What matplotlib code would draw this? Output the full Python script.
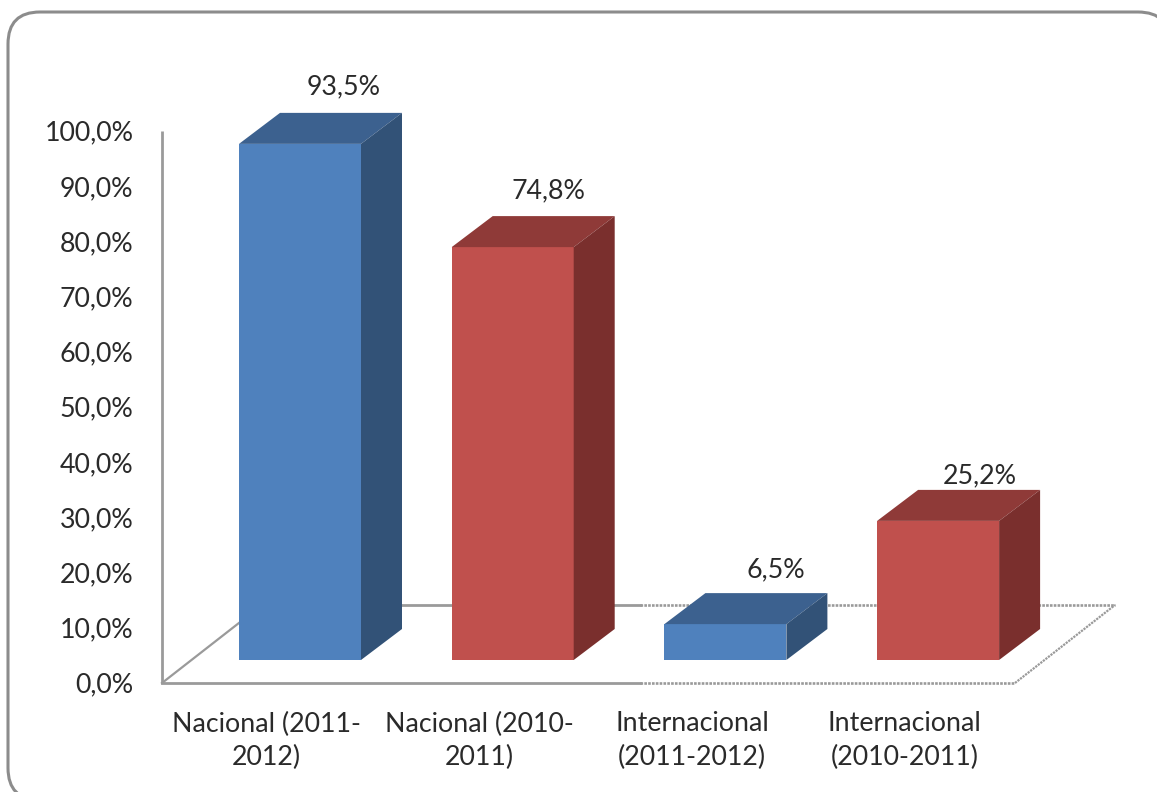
import matplotlib
matplotlib.use("Agg")
import matplotlib.pyplot as plt
from matplotlib.patches import FancyBboxPatch, Polygon, Rectangle
from matplotlib.transforms import Affine2D

categories = ["Nacional (2011-\n2012)", "Nacional (2010-\n2011)",
              "Internacional\n(2011-2012)", "Internacional\n(2010-2011)"]
values = [93.5, 74.8, 6.5, 25.2]
value_labels = ["93,5%", "74,8%", "6,5%", "25,2%"]
y_ticks = [0, 10, 20, 30, 40, 50, 60, 70, 80, 90, 100]
y_tick_labels = ["0,0%", "10,0%", "20,0%", "30,0%", "40,0%", "50,0%",
                 "60,0%", "70,0%", "80,0%", "90,0%", "100,0%"]

plt.rcParams['font.family'] = ['Lato', 'DejaVu Sans']

W, H = 1157, 792
PX_X = 212.7   # pixels per category
PX_Y = 5.52    # pixels per percent

fig = plt.figure(figsize=(W / 100, H / 100), dpi=100)
ax = fig.add_axes([0, 0, 1, 1])
ax.set_xlim(-300 / PX_X, (W - 300) / PX_X)
ax.set_ylim((683 - H) / PX_Y, 683 / PX_Y)
ax.axis('off')

# rounded frame, in pixels, runs off the right and bottom edges
frame = FancyBboxPatch((8, 12), 1162, 788, boxstyle="round,pad=0,rounding_size=32",
                       fc='white', ec='#8c8c8c', lw=2.2)
frame.set_transform(Affine2D().scale(1, -1).translate(0, H))
ax.add_patch(frame)

bar_w = 122 / PX_X
front_y = 23 / PX_Y
depth_x = 41 / PX_X
depth_y = 31 / PX_Y
floor_x = 100 / PX_X
floor_y = 78 / PX_Y
axis_x0 = -138 / PX_X
axis_x1 = 715 / PX_X
split_x = 340 / PX_X   # floor lines turn jagged from here on
line = '#9a9a9a'
jagged = (0, (1.0, 0.45))

ax.plot([axis_x0, axis_x0], [0, 100], color=line, lw=2, solid_capstyle='butt')
ax.plot([axis_x0, split_x], [0, 0], color=line, lw=2)
ax.plot([split_x, axis_x1], [0, 0], color=line, lw=1.9, ls=jagged)
ax.plot([axis_x0, axis_x0 + floor_x], [0, floor_y], color=line, lw=1.6)
ax.plot([axis_x0 + floor_x, split_x], [floor_y, floor_y], color=line, lw=2)
ax.plot([split_x, axis_x1 + floor_x], [floor_y, floor_y], color=line, lw=1.9, ls=jagged)
ax.plot([axis_x1, axis_x1 + floor_x], [0, floor_y], color=line, lw=1.6, ls=jagged)

colors = [('#4f81bd', '#3c618f', '#325277'), ('#c0504d', '#8f3a38', '#7a2f2d'),
          ('#4f81bd', '#3c618f', '#325277'), ('#c0504d', '#8f3a38', '#7a2f2d')]
label_dx = [44, 36, 50, 42]
label_dy = [26, 25, 23, 14]

for i, (v, lab) in enumerate(zip(values, value_labels)):
    x0 = i - bar_w / 2
    x1 = i + bar_w / 2
    y0 = front_y
    y1 = front_y + v
    face, top, side = colors[i]
    ax.add_patch(Rectangle((x0, y0), bar_w, v, fc=face, ec='none', zorder=3))
    ax.add_patch(Polygon([(x0, y1), (x1, y1), (x1 + depth_x, y1 + depth_y), (x0 + depth_x, y1 + depth_y)],
                         fc=top, ec='none', zorder=3))
    ax.add_patch(Polygon([(x1, y0), (x1 + depth_x, y0 + depth_y), (x1 + depth_x, y1 + depth_y), (x1, y1)],
                         fc=side, ec='none', zorder=3))
    ax.annotate(lab, (i, y1 + depth_y), xytext=(label_dx[i] * 0.72, label_dy[i] * 0.72),
                textcoords='offset points', ha='center', va='center',
                fontsize=19.3, color='#2a2a2a', zorder=4)

for t, lab in zip(y_ticks, y_tick_labels):
    ax.annotate(lab, (axis_x0, t), xytext=(-20.5, -1.6), textcoords='offset points',
                ha='right', va='center', fontsize=19.3, color='#2a2a2a')

for i, lab in enumerate(categories):
    ax.annotate(lab, (i, 0), xytext=(-24, -20.5), textcoords='offset points',
                ha='center', va='top', fontsize=19.3, color='#2a2a2a', linespacing=1.4)

fig.savefig("out.png", dpi=100)
